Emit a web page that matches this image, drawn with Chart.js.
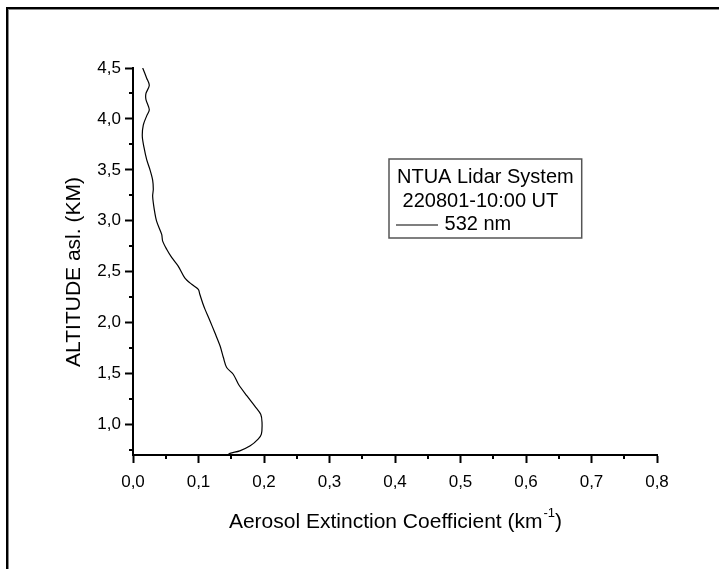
<!DOCTYPE html>
<html>
<head>
<meta charset="utf-8">
<script src="https://cdn.jsdelivr.net/npm/chart.js@4"></script>
<style>
  html, body { margin: 0; padding: 0; background: #fff; }
  canvas { display: block; }
</style>
</head>
<body>
<canvas id="profile" width="719" height="569"></canvas>
<script>
// extinction profile (km^-1 vs km asl)
const extinction = [0.0148, 0.0209, 0.0249, 0.0198, 0.0198, 0.0249, 0.0209, 0.0157, 0.0142, 0.0168,
    0.0209, 0.026, 0.030, 0.031, 0.030, 0.0325, 0.036, 0.0438, 0.0453, 0.0514,
    0.059, 0.069, 0.079, 0.0896, 0.0997, 0.102, 0.107, 0.110, 0.1176, 0.125,
    0.133, 0.138, 0.143, 0.153, 0.161, 0.174, 0.186, 0.195, 0.197, 0.196,
    0.191, 0.179, 0.163, 0.148, 0.1445];
const altitude = [4.50, 4.40, 4.33, 4.25, 4.19, 4.09, 4.03, 3.94, 3.83, 3.72,
    3.60, 3.50, 3.40, 3.31, 3.24, 3.11, 2.996, 2.866, 2.80, 2.72,
    2.64, 2.555, 2.44, 2.376, 2.327, 2.278, 2.18, 2.13, 2.016, 1.90,
    1.77, 1.657, 1.559, 1.493, 1.395, 1.28, 1.18, 1.10, 1.02, 0.905,
    0.856, 0.79, 0.741, 0.716, 0.70];

const xTicks = [0, 0.05, 0.1, 0.15, 0.2, 0.25, 0.3, 0.35, 0.4, 0.45, 0.5, 0.55, 0.6, 0.65, 0.7, 0.75, 0.8];
const yTicks = [0.75, 1.0, 1.25, 1.5, 1.75, 2.0, 2.25, 2.5, 2.75, 3.0, 3.25, 3.5, 3.75, 4.0, 4.25, 4.5];
const legendLines = ['NTUA Lidar System', ' 220801-10:00 UT'];
const seriesLabel = '532 nm';

const FONT = '"Liberation Sans", Arial, sans-serif';

function isMajor(v, step) {
    return Math.abs(v / step - Math.round(v / step)) < 1e-6;
}
function comma(v) {
    return v.toFixed(1).replace('.', ',');
}

const points = extinction.map((x, i) => ({ x: x, y: altitude[i] }));

// frame, minor ticks, axis titles and the boxed legend
const decor = {
    id: 'decor',
    beforeDraw(chart) {
        const c = chart.ctx;
        c.save();
        c.fillStyle = '#fff';
        c.fillRect(0, 0, chart.width, chart.height);
        c.strokeStyle = '#888';
        c.lineWidth = 1;
        c.strokeRect(8.5, 9.5, 900, 900);
        c.strokeStyle = '#000';
        c.lineWidth = 2;
        c.strokeRect(7, 8, 900, 900);
        c.restore();
    },
    afterDraw(chart) {
        const c = chart.ctx;
        const xs = chart.scales.x, ys = chart.scales.y;
        const area = chart.chartArea;
        c.save();
        c.strokeStyle = '#000';
        c.lineWidth = 2;
        c.beginPath();
        xTicks.forEach(v => {
            if (isMajor(v, 0.1)) return;
            const px = Math.round(xs.getPixelForValue(v));
            c.moveTo(px, area.bottom);
            c.lineTo(px, area.bottom + 4);
        });
        yTicks.forEach(v => {
            if (isMajor(v, 0.5)) return;
            const py = Math.round(ys.getPixelForValue(v));
            c.moveTo(area.left, py);
            c.lineTo(area.left - 4, py);
        });
        c.stroke();

        // y title
        c.fillStyle = '#000';
        c.font = '21px ' + FONT;
        c.textAlign = 'center';
        c.textBaseline = 'middle';
        c.save();
        c.translate(74, 272);
        c.rotate(-Math.PI / 2);
        c.fillText('ALTITUDE asl. (KM)', 0, 0);
        c.restore();

        // x title with superscript
        const main = 'Aerosol Extinction Coefficient (km';
        c.font = '21px ' + FONT;
        const w1 = c.measureText(main).width;
        c.font = '13px ' + FONT;
        const w2 = c.measureText('-1').width;
        c.font = '21px ' + FONT;
        const w3 = c.measureText(')').width;
        let tx = (area.left + area.right) / 2 - (w1 + w2 + w3) / 2;
        const ty = 528;
        c.textAlign = 'left';
        c.textBaseline = 'alphabetic';
        c.fillText(main, tx, ty);
        c.font = '13px ' + FONT;
        c.fillText('-1', tx + w1 + 1, ty - 11);
        c.font = '21px ' + FONT;
        c.fillText(')', tx + w1 + w2 + 1, ty);

        // legend box
        const bx = 389, by = 159;
        c.font = '20px ' + FONT;
        const bw = Math.max(...legendLines.map(s => c.measureText(s).width)) + 16;
        const bh = 79;
        c.fillStyle = '#fff';
        c.fillRect(bx, by, bw, bh);
        c.strokeStyle = '#555';
        c.lineWidth = 1.5;
        c.strokeRect(bx, by, bw, bh);
        c.fillStyle = '#000';
        legendLines.forEach((s, i) => c.fillText(s, bx + 8, by + 24 + i * 23.5));
        const ds = chart.data.datasets[0];
        c.strokeStyle = ds.borderColor;
        c.lineWidth = 1.2;
        c.beginPath();
        c.moveTo(bx + 7, by + 66);
        c.lineTo(bx + 49, by + 66);
        c.stroke();
        c.fillText(' ' + ds.label, bx + 50, by + 71);
        c.restore();
    }
};

new Chart(document.getElementById('profile'), {
    type: 'scatter',
    data: {
        datasets: [{
            label: seriesLabel,
            data: points,
            showLine: true,
            borderColor: '#000',
            borderWidth: 1.2,
            pointRadius: 0,
            tension: 0.3,
            fill: false
        }]
    },
    options: {
        responsive: false,
        animation: false,
        layout: { padding: { left: 0, top: 68, right: 62, bottom: 0 } },
        plugins: {
            legend: { display: false },
            tooltip: { enabled: false }
        },
        scales: {
            x: {
                type: 'linear',
                min: 0,
                max: 0.8,
                afterBuildTicks: s => { s.ticks = xTicks.map(v => ({ value: v })); },
                afterFit: s => { s.height = 114; },
                border: { display: true, color: '#000', width: 2 },
                grid: {
                    drawOnChartArea: false,
                    drawTicks: true,
                    tickLength: 8,
                    tickWidth: 2,
                    tickColor: ctx => isMajor(ctx.tick.value, 0.1) ? '#000' : 'rgba(0,0,0,0)'
                },
                ticks: {
                    color: '#000',
                    padding: 9,
                    maxRotation: 0,
                    autoSkip: false,
                    font: { family: FONT, size: 17 },
                    callback: v => isMajor(v, 0.1) ? comma(v) : ''
                }
            },
            y: {
                type: 'linear',
                min: 0.7,
                max: 4.5,
                afterBuildTicks: s => { s.ticks = yTicks.map(v => ({ value: v })); },
                afterFit: s => { s.width = 133; },
                border: { display: true, color: '#000', width: 2 },
                grid: {
                    drawOnChartArea: false,
                    drawTicks: true,
                    tickLength: 8,
                    tickWidth: 2,
                    tickColor: ctx => isMajor(ctx.tick.value, 0.5) ? '#000' : 'rgba(0,0,0,0)'
                },
                ticks: {
                    color: '#000',
                    padding: 4,
                    autoSkip: false,
                    font: { family: FONT, size: 17 },
                    callback: v => isMajor(v, 0.5) ? comma(v) : ''
                }
            }
        }
    },
    plugins: [decor]
});
</script>
</body>
</html>
